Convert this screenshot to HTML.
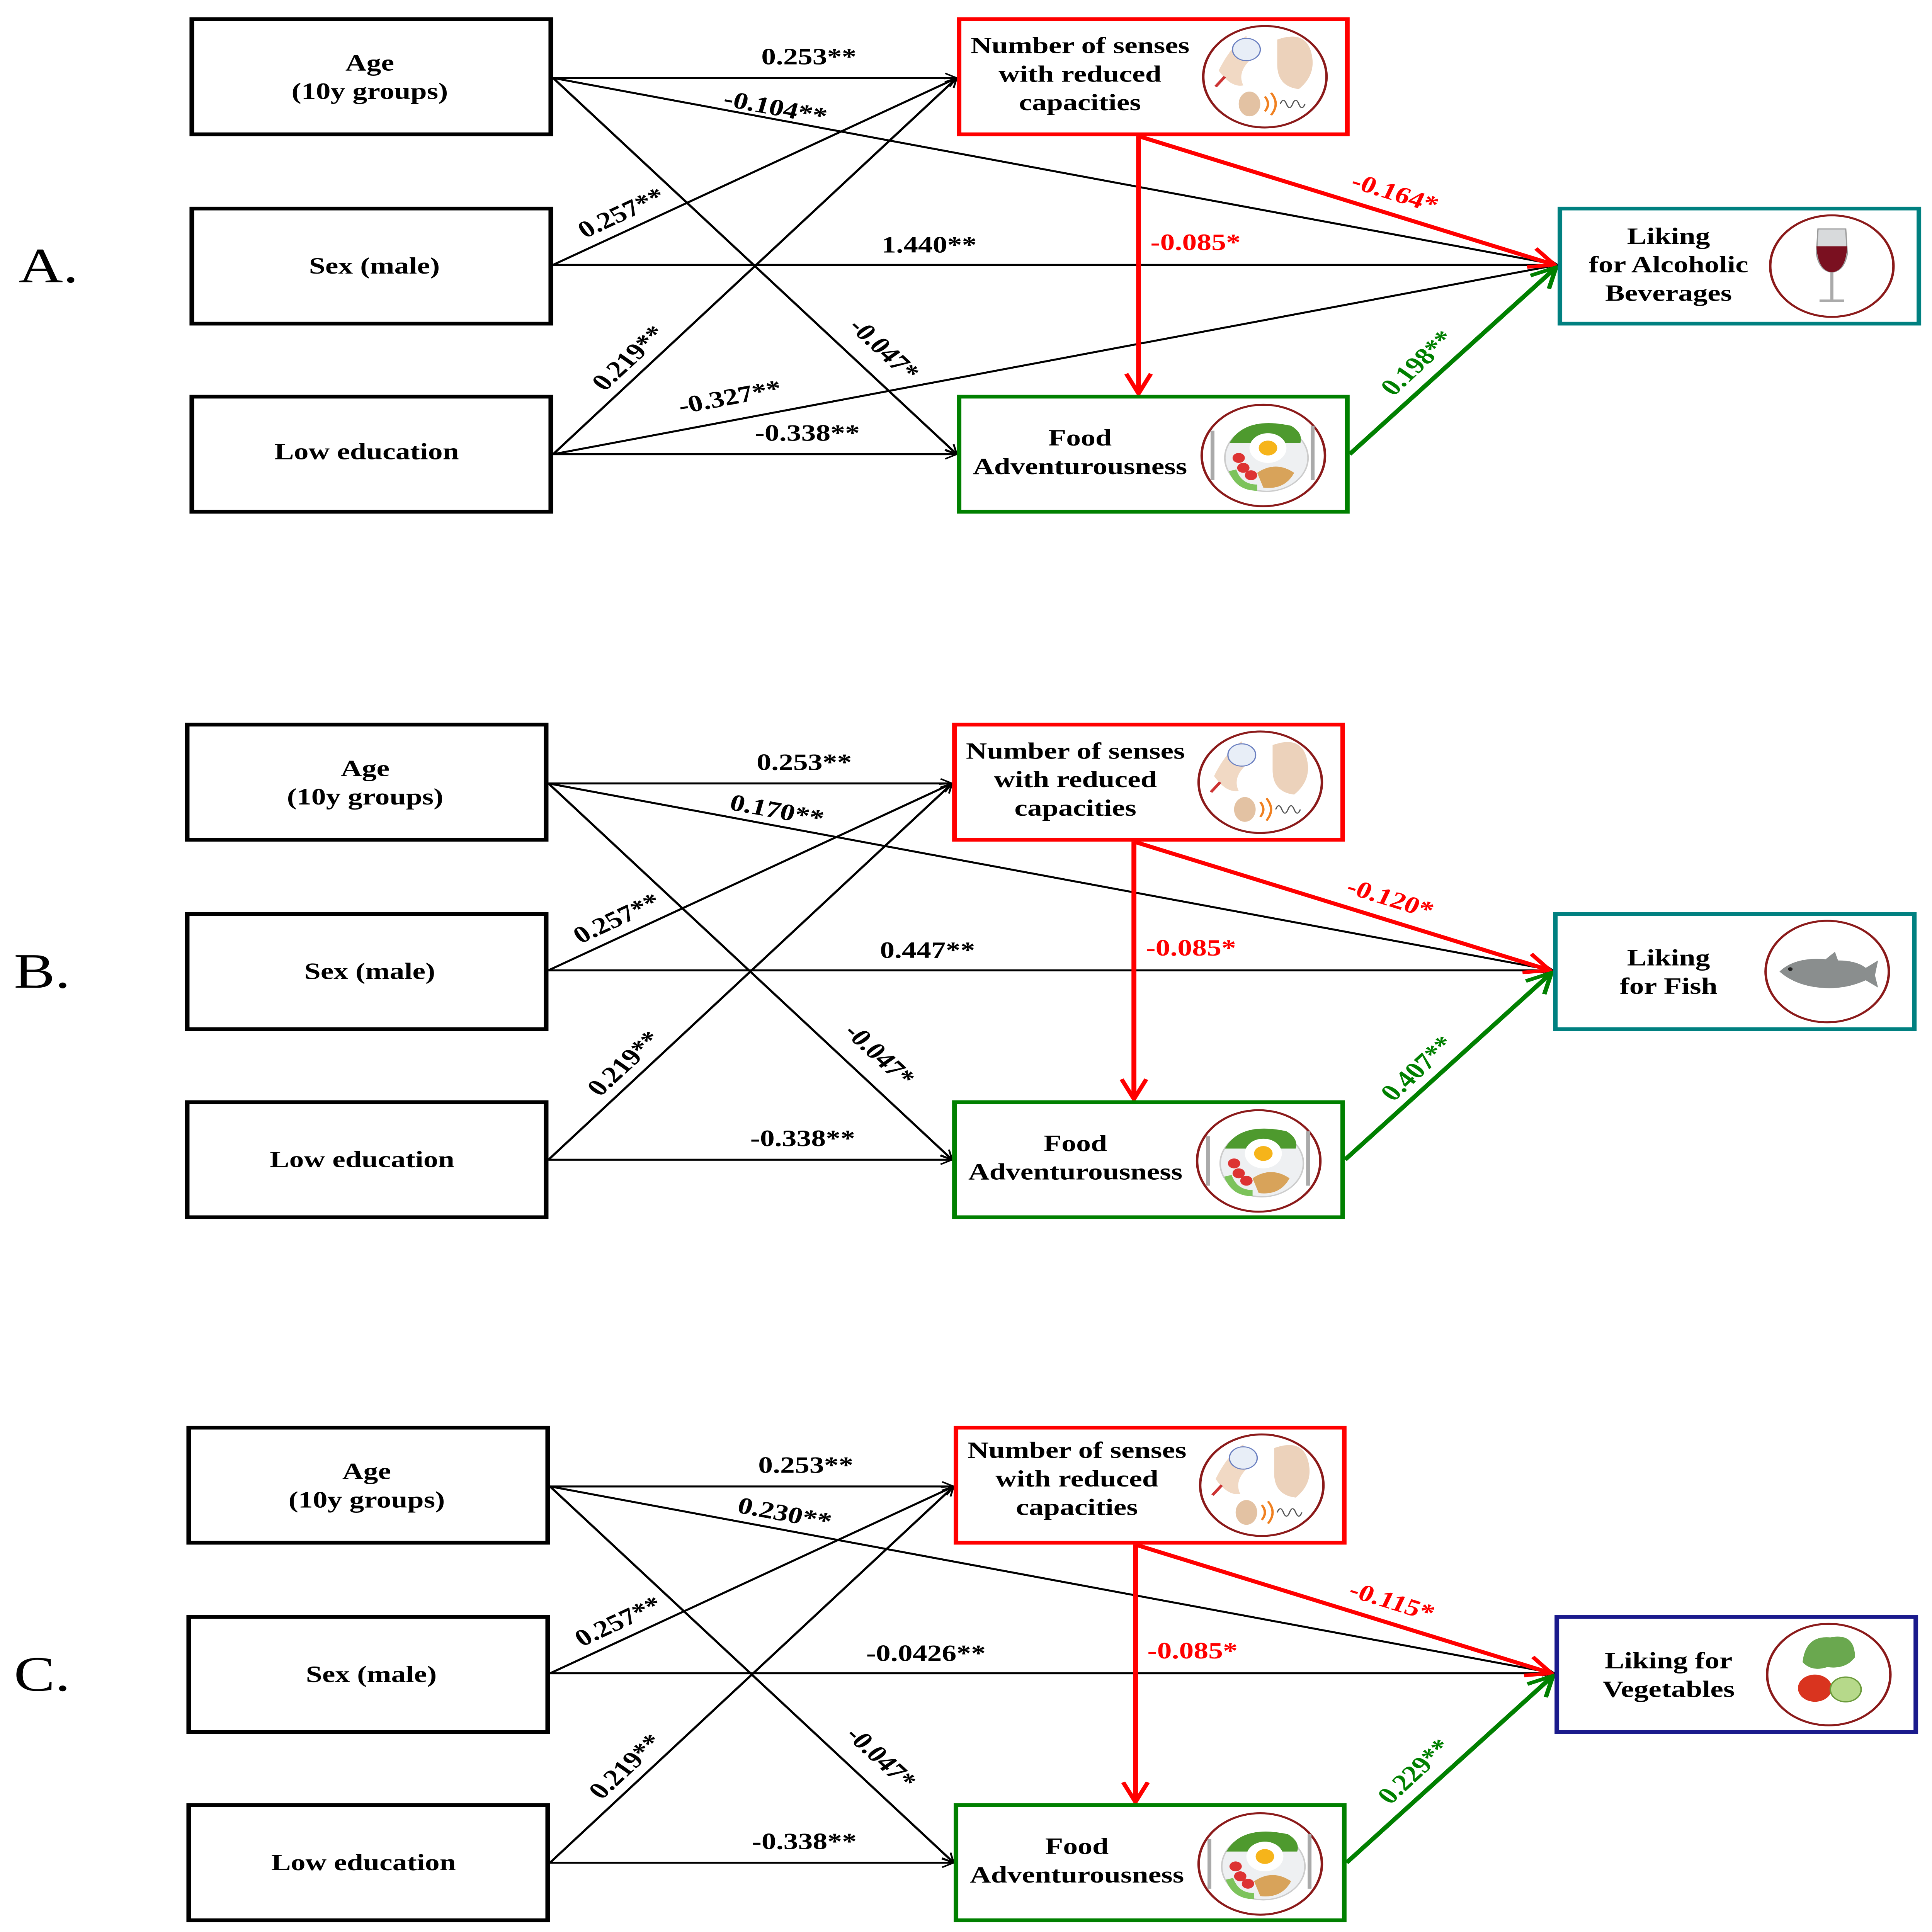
<!DOCTYPE html>
<html><head><meta charset="utf-8"><style>
html,body{margin:0;padding:0;background:#fff;overflow:hidden;width:100%;height:100%;}
svg{display:block;width:100vw;height:100vh;}
text{font-family:"Liberation Serif",serif;font-weight:bold;}
</style></head><body>
<svg viewBox="0 0 1254 1561" preserveAspectRatio="none" xmlns="http://www.w3.org/2000/svg">
<defs>
<marker id="ab" viewBox="0 0 12 12" refX="11" refY="6" markerWidth="9" markerHeight="9" markerUnits="userSpaceOnUse" orient="auto"><path d="M1,1 L11,6 L1,11" fill="none" stroke="#000" stroke-width="1.6"/></marker>
<marker id="ar" viewBox="0 0 12 12" refX="11" refY="6" markerWidth="6" markerHeight="6" orient="auto"><path d="M1,1 L11,6 L1,11" fill="none" stroke="#f00" stroke-width="1.8"/></marker>
<marker id="ag" viewBox="0 0 12 12" refX="11" refY="6" markerWidth="6" markerHeight="6" orient="auto"><path d="M1,1 L11,6 L1,11" fill="none" stroke="#008000" stroke-width="1.8"/></marker>
<g id="senseIcon">
<ellipse cx="0" cy="0" rx="40" ry="41" fill="#fff" stroke="#8b1a1a" stroke-width="1.6"/>
<path d="M-30,-5 q8,-20 18,-28 l2,20 q-8,10 -4,20 q-8,2 -16,-12z" fill="#f1d9c4"/>
<circle cx="-12" cy="-22" r="9" fill="#e8eef7" stroke="#6a7fc0" stroke-width="0.8"/>
<path d="M8,-30 q18,-8 22,10 q4,18 -8,30 q-14,-2 -14,-20z" fill="#ecd2bb"/>
<path d="M-26,0 l-6,8" stroke="#c33" stroke-width="2"/>
<ellipse cx="-10" cy="22" rx="7" ry="10" fill="#e3c2a3"/>
<path d="M0,16 q4,6 0,12 M4,13 q6,9 0,18" fill="none" stroke="#f08020" stroke-width="1.5"/>
<path d="M10,22 q2,-6 4,0 q2,6 4,0 q2,-6 4,0 q2,6 4,0" fill="none" stroke="#555" stroke-width="0.8"/>
</g>
<g id="foodIcon">
<ellipse cx="0" cy="0" rx="40" ry="41" fill="#fff" stroke="#8b1a1a" stroke-width="1.6"/>
<circle cx="2" cy="2" r="27" fill="#eef0f2" stroke="#ccc"/>
<path d="M-22,-10 q10,-22 40,-14 q8,6 6,14z" fill="#4e9a2e"/>
<circle cx="3" cy="-6" r="12" fill="#fff"/><circle cx="3" cy="-6" r="6" fill="#f6b41a"/>
<circle cx="-16" cy="2" r="4" fill="#d33"/><circle cx="-13" cy="10" r="4" fill="#d33"/><circle cx="-8" cy="16" r="4" fill="#d33"/>
<path d="M-20,12 q4,14 16,14" stroke="#7cc35b" stroke-width="5" fill="none"/>
<path d="M-4,14 q12,-10 24,0 q-6,14 -20,12z" fill="#d8a35a"/>
<path d="M-33,-20 v40 M32,-24 v44" stroke="#aaa" stroke-width="2.5"/>
</g>
</defs>

<text x="12" y="228" font-size="40" style="font-weight:normal">A.</text>
<text x="9" y="798" font-size="40" style="font-weight:normal">B.</text>
<text x="9" y="1366" font-size="40" style="font-weight:normal">C.</text>

<!-- PANEL A -->
<g>
<g stroke="#000" stroke-width="1.6" fill="none">
<line x1="359" y1="63" x2="621" y2="63" marker-end="url(#ab)"/>
<line x1="359" y1="63" x2="1011" y2="214" marker-end="url(#ab)"/>
<line x1="359" y1="63" x2="621" y2="367" marker-end="url(#ab)"/>
<line x1="359" y1="214" x2="621" y2="63" marker-end="url(#ab)"/>
<line x1="359" y1="214" x2="1011" y2="214" marker-end="url(#ab)"/>
<line x1="359" y1="367" x2="621" y2="63" marker-end="url(#ab)"/>
<line x1="359" y1="367" x2="1011" y2="214" marker-end="url(#ab)"/>
<line x1="359" y1="367" x2="621" y2="367" marker-end="url(#ab)"/>
</g>
<line x1="739" y1="110" x2="739" y2="318" stroke="#f00" stroke-width="3.2" marker-end="url(#ar)"/>
<line x1="739" y1="110" x2="1009" y2="214" stroke="#f00" stroke-width="3.2" marker-end="url(#ar)"/>
<line x1="876" y1="367" x2="1010" y2="216" stroke="#008000" stroke-width="3.2" marker-end="url(#ag)"/>

<rect x="124.5" y="15.5" width="233" height="93" fill="#fff" stroke="#000" stroke-width="3"/>
<rect x="124.5" y="168.5" width="233" height="93" fill="#fff" stroke="#000" stroke-width="3"/>
<rect x="124.5" y="320.5" width="233" height="93" fill="#fff" stroke="#000" stroke-width="3"/>
<rect x="622.5" y="15.5" width="252" height="93" fill="#fff" stroke="#f00" stroke-width="3"/>
<rect x="622.5" y="320.5" width="252" height="93" fill="#fff" stroke="#008000" stroke-width="3"/>
<rect x="1012.5" y="168.5" width="233" height="93" fill="#fff" stroke="#008080" stroke-width="3"/>

<g font-size="19" text-anchor="middle">
<text x="240" y="57">Age</text><text x="240" y="80">(10y groups)</text>
<text x="243" y="221">Sex (male)</text>
<text x="238" y="371">Low education</text>
<text x="701" y="43">Number of senses</text><text x="701" y="66">with reduced</text><text x="701" y="89">capacities</text>
<text x="701" y="360">Food</text><text x="701" y="383">Adventurousness</text>
<text x="1083" y="197">Liking</text><text x="1083" y="220">for Alcoholic</text><text x="1083" y="243">Beverages</text>
</g>
<use href="#senseIcon" x="821" y="62"/>
<use href="#foodIcon" x="820" y="368"/>
<ellipse cx="1189" cy="215" rx="40" ry="41" fill="#fff" stroke="#8b1a1a" stroke-width="1.6"/>
<path d="M1180,185 h18 l1,20 q-2,14 -10,15 q-8,-1 -10,-15z" fill="#d8dadc" stroke="#999" stroke-width="0.8"/>
<path d="M1179,199 h20 q-1,20 -10,21 q-9,-1 -10,-21z" fill="#7a1020"/>
<path d="M1189,220 v22 M1181,243 h16" stroke="#aaa" stroke-width="2"/>

<g font-size="19">
<text x="525" y="52" text-anchor="middle">0.253**</text>
<text x="503" y="93" text-anchor="middle" transform="rotate(13 503 88)">-0.104**</text>
<text x="573" y="288" text-anchor="middle" transform="rotate(49 573 283)">-0.047*</text>
<text x="404" y="178" text-anchor="middle" transform="rotate(-30 404 173)">0.257**</text>
<text x="603" y="204" text-anchor="middle">1.440**</text>
<text x="409" y="295" text-anchor="middle" transform="rotate(-49 409 290)">0.219**</text>
<text x="474" y="327" text-anchor="middle" transform="rotate(-13 474 322)">-0.327**</text>
<text x="524" y="356" text-anchor="middle">-0.338**</text>
<text x="776" y="202" text-anchor="middle" fill="#f00">-0.085*</text>
<text x="905" y="162" text-anchor="middle" fill="#f00" transform="rotate(21 905 157)">-0.164*</text>
<text x="921" y="299" text-anchor="middle" fill="#008000" transform="rotate(-49 921 294)">0.198**</text>
</g>
</g>

<!-- PANEL B -->
<g transform="translate(-3,570)">
<g stroke="#000" stroke-width="1.6" fill="none">
<line x1="359" y1="63" x2="621" y2="63" marker-end="url(#ab)"/>
<line x1="359" y1="63" x2="1011" y2="214" marker-end="url(#ab)"/>
<line x1="359" y1="63" x2="621" y2="367" marker-end="url(#ab)"/>
<line x1="359" y1="214" x2="621" y2="63" marker-end="url(#ab)"/>
<line x1="359" y1="214" x2="1011" y2="214" marker-end="url(#ab)"/>
<line x1="359" y1="367" x2="621" y2="63" marker-end="url(#ab)"/>
<line x1="359" y1="367" x2="621" y2="367" marker-end="url(#ab)"/>
</g>
<line x1="739" y1="110" x2="739" y2="318" stroke="#f00" stroke-width="3.2" marker-end="url(#ar)"/>
<line x1="739" y1="110" x2="1009" y2="214" stroke="#f00" stroke-width="3.2" marker-end="url(#ar)"/>
<line x1="876" y1="367" x2="1010" y2="216" stroke="#008000" stroke-width="3.2" marker-end="url(#ag)"/>

<rect x="124.5" y="15.5" width="233" height="93" fill="#fff" stroke="#000" stroke-width="3"/>
<rect x="124.5" y="168.5" width="233" height="93" fill="#fff" stroke="#000" stroke-width="3"/>
<rect x="124.5" y="320.5" width="233" height="93" fill="#fff" stroke="#000" stroke-width="3"/>
<rect x="622.5" y="15.5" width="252" height="93" fill="#fff" stroke="#f00" stroke-width="3"/>
<rect x="622.5" y="320.5" width="252" height="93" fill="#fff" stroke="#008000" stroke-width="3"/>
<rect x="1012.5" y="168.5" width="233" height="93" fill="#fff" stroke="#008080" stroke-width="3"/>

<g font-size="19" text-anchor="middle">
<text x="240" y="57">Age</text><text x="240" y="80">(10y groups)</text>
<text x="243" y="221">Sex (male)</text>
<text x="238" y="373">Low education</text>
<text x="701" y="43">Number of senses</text><text x="701" y="66">with reduced</text><text x="701" y="89">capacities</text>
<text x="701" y="360">Food</text><text x="701" y="383">Adventurousness</text>
<text x="1086" y="210">Liking</text><text x="1086" y="233">for Fish</text>
</g>
<use href="#senseIcon" x="821" y="62"/>
<use href="#foodIcon" x="820" y="368"/>
<ellipse cx="1189" cy="215" rx="40" ry="41" fill="#fff" stroke="#8b1a1a" stroke-width="1.6"/>
<path d="M1158,215 q10,-12 30,-10 l6,-6 l2,7 q12,0 18,6 l8,-6 l-2,12 l2,10 l-8,-6 q-14,8 -30,6 q-16,-2 -26,-13z" fill="#8a8e8e"/>
<circle cx="1165" cy="213" r="1.5" fill="#222"/>

<g font-size="19">
<text x="525" y="52" text-anchor="middle">0.253**</text>
<text x="507" y="91" text-anchor="middle" transform="rotate(13 507 86)">0.170**</text>
<text x="573" y="288" text-anchor="middle" transform="rotate(49 573 283)">-0.047*</text>
<text x="404" y="178" text-anchor="middle" transform="rotate(-30 404 173)">0.257**</text>
<text x="605" y="204" text-anchor="middle">0.447**</text>
<text x="409" y="295" text-anchor="middle" transform="rotate(-49 409 290)">0.219**</text>
<text x="524" y="356" text-anchor="middle">-0.338**</text>
<text x="776" y="202" text-anchor="middle" fill="#f00">-0.085*</text>
<text x="905" y="162" text-anchor="middle" fill="#f00" transform="rotate(21 905 157)">-0.120*</text>
<text x="924" y="299" text-anchor="middle" fill="#008000" transform="rotate(-49 924 294)">0.407**</text>
</g>
</g>

<!-- PANEL C -->
<g transform="translate(-2,1138)">
<g stroke="#000" stroke-width="1.6" fill="none">
<line x1="359" y1="63" x2="621" y2="63" marker-end="url(#ab)"/>
<line x1="359" y1="63" x2="1011" y2="214" marker-end="url(#ab)"/>
<line x1="359" y1="63" x2="621" y2="367" marker-end="url(#ab)"/>
<line x1="359" y1="214" x2="621" y2="63" marker-end="url(#ab)"/>
<line x1="359" y1="214" x2="1011" y2="214" marker-end="url(#ab)"/>
<line x1="359" y1="367" x2="621" y2="63" marker-end="url(#ab)"/>
<line x1="359" y1="367" x2="621" y2="367" marker-end="url(#ab)"/>
</g>
<line x1="739" y1="110" x2="739" y2="318" stroke="#f00" stroke-width="3.2" marker-end="url(#ar)"/>
<line x1="739" y1="110" x2="1009" y2="214" stroke="#f00" stroke-width="3.2" marker-end="url(#ar)"/>
<line x1="876" y1="367" x2="1010" y2="216" stroke="#008000" stroke-width="3.2" marker-end="url(#ag)"/>

<rect x="124.5" y="15.5" width="233" height="93" fill="#fff" stroke="#000" stroke-width="3"/>
<rect x="124.5" y="168.5" width="233" height="93" fill="#fff" stroke="#000" stroke-width="3"/>
<rect x="124.5" y="320.5" width="233" height="93" fill="#fff" stroke="#000" stroke-width="3"/>
<rect x="622.5" y="15.5" width="252" height="93" fill="#fff" stroke="#f00" stroke-width="3"/>
<rect x="622.5" y="320.5" width="252" height="93" fill="#fff" stroke="#008000" stroke-width="3"/>
<rect x="1012.5" y="168.5" width="233" height="93" fill="#fff" stroke="#1a1a8c" stroke-width="3"/>

<g font-size="19" text-anchor="middle">
<text x="240" y="57">Age</text><text x="240" y="80">(10y groups)</text>
<text x="243" y="221">Sex (male)</text>
<text x="238" y="373">Low education</text>
<text x="701" y="40">Number of senses</text><text x="701" y="63">with reduced</text><text x="701" y="86">capacities</text>
<text x="701" y="360">Food</text><text x="701" y="383">Adventurousness</text>
<text x="1085" y="210">Liking for</text><text x="1085" y="233">Vegetables</text>
</g>
<use href="#senseIcon" x="821" y="62"/>
<use href="#foodIcon" x="820" y="368"/>
<ellipse cx="1189" cy="215" rx="40" ry="41" fill="#fff" stroke="#8b1a1a" stroke-width="1.6"/>
<path d="M1172,205 q2,-22 18,-20 q16,-4 16,16 q-6,10 -18,8 q-10,4 -16,-4z" fill="#6aa84f"/>
<circle cx="1180" cy="226" r="11" fill="#d9341f"/>
<circle cx="1200" cy="227" r="10" fill="#b6d98a" stroke="#6a9a3a"/>

<g font-size="19">
<text x="525" y="52" text-anchor="middle">0.253**</text>
<text x="511" y="91" text-anchor="middle" transform="rotate(13 511 86)">0.230**</text>
<text x="573" y="288" text-anchor="middle" transform="rotate(49 573 283)">-0.047*</text>
<text x="404" y="178" text-anchor="middle" transform="rotate(-30 404 173)">0.257**</text>
<text x="603" y="204" text-anchor="middle">-0.0426**</text>
<text x="409" y="295" text-anchor="middle" transform="rotate(-49 409 290)">0.219**</text>
<text x="524" y="356" text-anchor="middle">-0.338**</text>
<text x="776" y="202" text-anchor="middle" fill="#f00">-0.085*</text>
<text x="905" y="162" text-anchor="middle" fill="#f00" transform="rotate(21 905 157)">-0.115*</text>
<text x="921" y="299" text-anchor="middle" fill="#008000" transform="rotate(-49 921 294)">0.229**</text>
</g>
</g>
</svg>
</body></html>
